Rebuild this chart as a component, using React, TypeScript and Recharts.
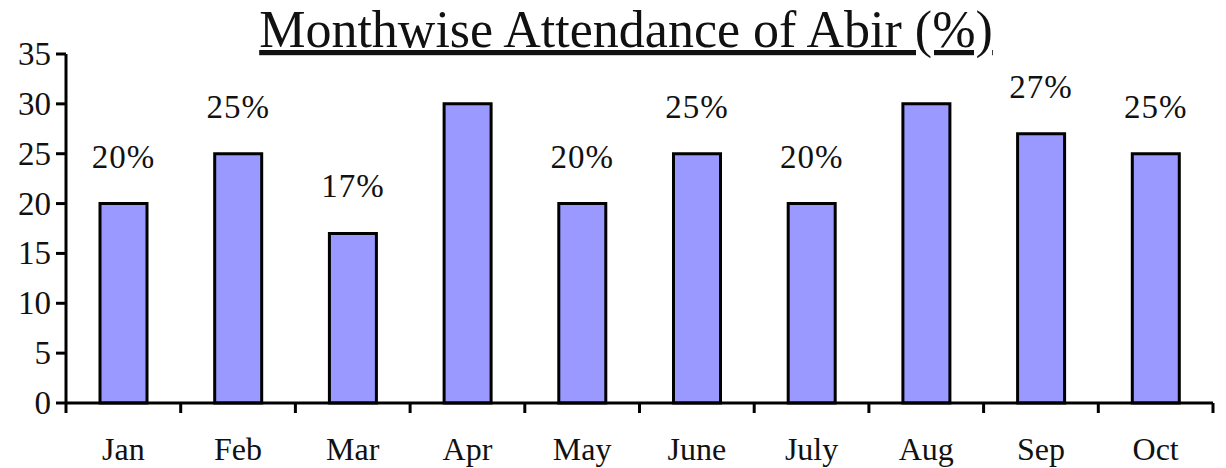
import { BarChart, Bar, XAxis, YAxis, LabelList } from "recharts";

const months = ["Jan", "Feb", "Mar", "Apr", "May", "June", "July", "Aug", "Sep", "Oct"];
const attendance = [20, 25, 17, 30, 20, 25, 20, 30, 27, 25];
const barLabels = ["20%", "25%", "17%", "", "20%", "25%", "20%", "", "27%", "25%"];
const yTicks = [0, 5, 10, 15, 20, 25, 30, 35];

const data = months.map((m, i) => ({
  month: m,
  value: attendance[i],
  label: barLabels[i],
}));

const W = 1226;
const H = 468;
const LEFT = 66;
const RIGHT = 13;
const FONT = "'Liberation Serif', 'Times New Roman', Times, serif";
const BAND = (W - LEFT - RIGHT) / months.length;

const textStyle = { fontFamily: FONT, fill: "#111" };

const MonthTick = (props: any) => {
  const { x, y, payload, index } = props;
  const isLast = index === months.length - 1;
  return (
    <g>
      <line x1={x - BAND / 2} x2={x - BAND / 2} y1={y - 10} y2={y} stroke="#000" strokeWidth={3} />
      {isLast && (
        <line x1={x + BAND / 2} x2={x + BAND / 2} y1={y - 10} y2={y} stroke="#000" strokeWidth={3} />
      )}
      <text x={x} y={y + 47} textAnchor="middle" style={{ ...textStyle, fontSize: 32 }}>
        {payload.value}
      </text>
    </g>
  );
};

const YTick = (props: any) => {
  const { x, y, payload } = props;
  return (
    <text x={x} y={y} dy={11} textAnchor="end" style={{ ...textStyle, fontSize: 33 }}>
      {payload.value}
    </text>
  );
};

const BarLabel = (props: any) => {
  const { x, y, width, value } = props;
  if (!value) return null;
  return (
    <text x={x + width / 2} y={y - 36} textAnchor="middle" style={{ ...textStyle, fontSize: 33, letterSpacing: 1 }}>
      {value}
    </text>
  );
};

export default function App() {
  return (
    <div style={{ position: "absolute", left: 0, top: 0, width: W, height: H, background: "#fff", fontFamily: FONT }}>
      <BarChart width={W} height={H} data={data} margin={{ top: 54, right: RIGHT, left: 0, bottom: 0 }}>
        <XAxis
          dataKey="month"
          height={65}
          interval={0}
          axisLine={{ stroke: "#000", strokeWidth: 3 }}
          tickLine={false}
          tickSize={10}
          tickMargin={0}
          tick={<MonthTick />}
        />
        <YAxis
          width={LEFT}
          domain={[0, 35]}
          ticks={yTicks}
          interval={0}
          axisLine={{ stroke: "#000", strokeWidth: 3 }}
          tickLine={{ stroke: "#000", strokeWidth: 3 }}
          tickSize={10}
          tickMargin={5}
          tick={<YTick />}
        />
        <Bar dataKey="value" fill="#9999FF" stroke="#000" strokeWidth={3} barSize={47} isAnimationActive={false}>
          <LabelList dataKey="label" content={<BarLabel />} />
        </Bar>
      </BarChart>
      <svg width={W} height={60} style={{ position: "absolute", left: 0, top: 0, pointerEvents: "none" }}>
        <text
          x={626}
          y={47}
          textAnchor="middle"
          style={{ ...textStyle, fontSize: 52, textDecoration: "underline" }}
        >
          Monthwise Attendance of Abir (%)
        </text>
      </svg>
    </div>
  );
}
